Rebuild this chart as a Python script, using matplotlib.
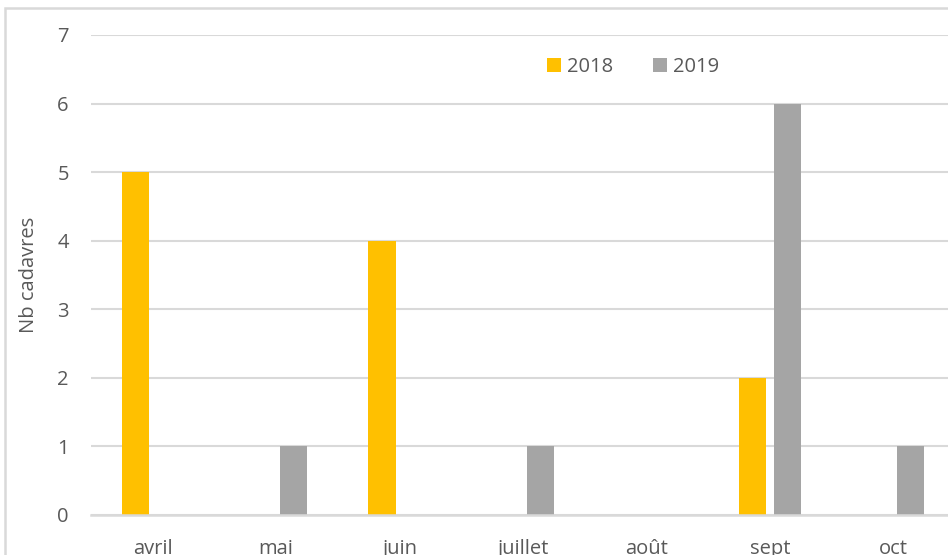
import matplotlib.pyplot as plt
import numpy as np
from matplotlib.patches import Rectangle

# Donnees
mois = ['avril', 'mai', 'juin', 'juillet', 'août', 'sept', 'oct']
nb_2018 = [5, 0, 4, 0, 0, 2, 0]
nb_2019 = [0, 1, 0, 1, 0, 6, 1]

plt.rcParams['font.family'] = ['Open Sans', 'DejaVu Sans']
gris_txt = '#595959'
gris_ligne = '#d9d9d9'
taille = 14.5

W, H = 948, 555
fig = plt.figure(figsize=(W / 100, H / 100), dpi=100)

# Cadre du graphique (depasse a droite et en bas)
fig.patches.append(Rectangle((5 / W, -0.1), 1.2, (H - 8) / H + 0.1,
                             transform=fig.transFigure, fill=False,
                             edgecolor=gris_ligne, linewidth=1.8))

ax = fig.add_axes([91 / W, 40 / H, 864 / W, 480 / H])

x = np.arange(len(mois))
larg = 0.22
ax.bar(x - 0.142, nb_2018, larg, color='#ffc000', label='2018', zorder=3)
ax.bar(x + 0.142, nb_2019, larg, color='#a5a5a5', label='2019', zorder=3)

ax.set_xlim(-0.5, len(mois) - 0.5)
ax.set_ylim(0, 7)
ax.set_yticks(range(8))
ax.set_xticks(x)
ax.set_xticklabels(mois)
ax.grid(axis='y', color=gris_ligne, linewidth=1.5, zorder=0)
ax.set_axisbelow(True)

for s in ['top', 'right', 'left']:
    ax.spines[s].set_visible(False)
ax.spines['bottom'].set_color(gris_ligne)
ax.spines['bottom'].set_linewidth(1.8)
ax.spines['bottom'].set_zorder(4)

ax.tick_params(axis='both', length=0, colors=gris_txt, labelsize=taille)
ax.tick_params(axis='y', pad=16)
ax.tick_params(axis='x', pad=17)
ax.set_ylabel('Nb cadavres', color=gris_txt, fontsize=taille, labelpad=13)

leg = ax.legend(loc='center', bbox_to_anchor=(633 / W, 1 - 67 / H),
                bbox_transform=fig.transFigure, ncol=2, frameon=False,
                fontsize=taille, handlelength=0.7, handleheight=0.7,
                handletextpad=0.3, columnspacing=2.0)
for t in leg.get_texts():
    t.set_color(gris_txt)

fig.savefig('out.png', dpi=100)
